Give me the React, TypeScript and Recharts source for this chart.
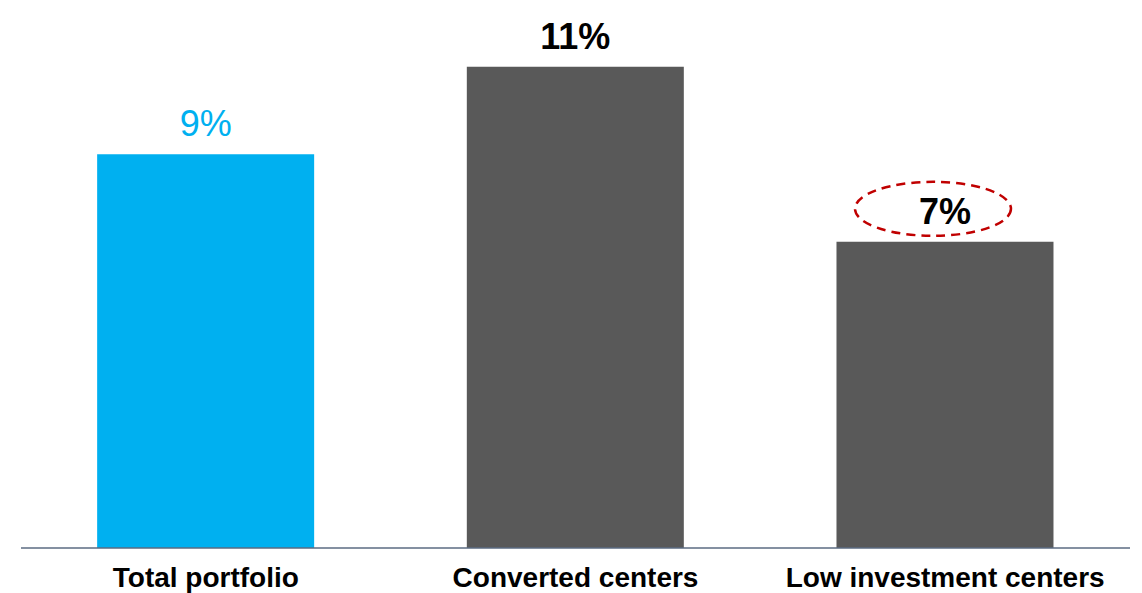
import React from 'react';
import { BarChart, Bar, XAxis, YAxis, Cell, LabelList } from 'recharts';

const categories = ['Total portfolio', 'Converted centers', 'Low investment centers'];
const growthValues = [9, 11, 7];
const barColors = ['#00B0F0', '#595959', '#595959'];
const labelColors = ['#00B0F0', '#000000', '#000000'];
const labelWeights = ['normal', 'bold', 'bold'];
const circledIndex = 2;

const chartData = categories.map((name, i) => ({ name, value: growthValues[i] }));

const margin = { top: 10, right: 12, left: 21, bottom: 0 };
const font = '"Liberation Sans", Arial, sans-serif';

const ValueLabel = (props: any) => {
  const { x, y, width, value, index } = props;
  const cx = x + width / 2;
  return (
    <g>
      {index === circledIndex && (
        <ellipse
          cx={cx - 12}
          cy={y - 33}
          rx={78}
          ry={27}
          fill="none"
          stroke="#C00000"
          strokeWidth={2.5}
          strokeDasharray="9 6"
        />
      )}
      <text
        x={cx}
        y={y - 18}
        textAnchor="middle"
        fontFamily={font}
        fontSize={36}
        fontWeight={labelWeights[index]}
        fill={labelColors[index]}
      >
        {`${value}%`}
      </text>
    </g>
  );
};

// tick y already sits just under the axis line
const CategoryTick = (props: any) => {
  const { x, y, payload } = props;
  return (
    <text x={x} y={y + 31} textAnchor="middle" fontFamily={font} fontSize={28} fontWeight="bold" fill="#000000">
      {payload.value}
    </text>
  );
};

const App = (): JSX.Element => (
  <div style={{ position: 'absolute', left: 0, top: 0, background: '#ffffff' }}>
    <BarChart width={1142} height={593} data={chartData} margin={margin} barCategoryGap="20.6%">
      <XAxis
        dataKey="name"
        interval={0}
        height={45}
        tickLine={false}
        axisLine={{ stroke: '#5B6B82', strokeWidth: 1.5 }}
        tick={<CategoryTick />}
      />
      <YAxis hide domain={[0, 12.3]} />
      <Bar dataKey="value" isAnimationActive={false}>
        <LabelList dataKey="value" content={<ValueLabel />} />
        {chartData.map((item, index) => (
          <Cell key={`cell-${item.name}`} fill={barColors[index]} />
        ))}
      </Bar>
    </BarChart>
  </div>
);

export default App;
